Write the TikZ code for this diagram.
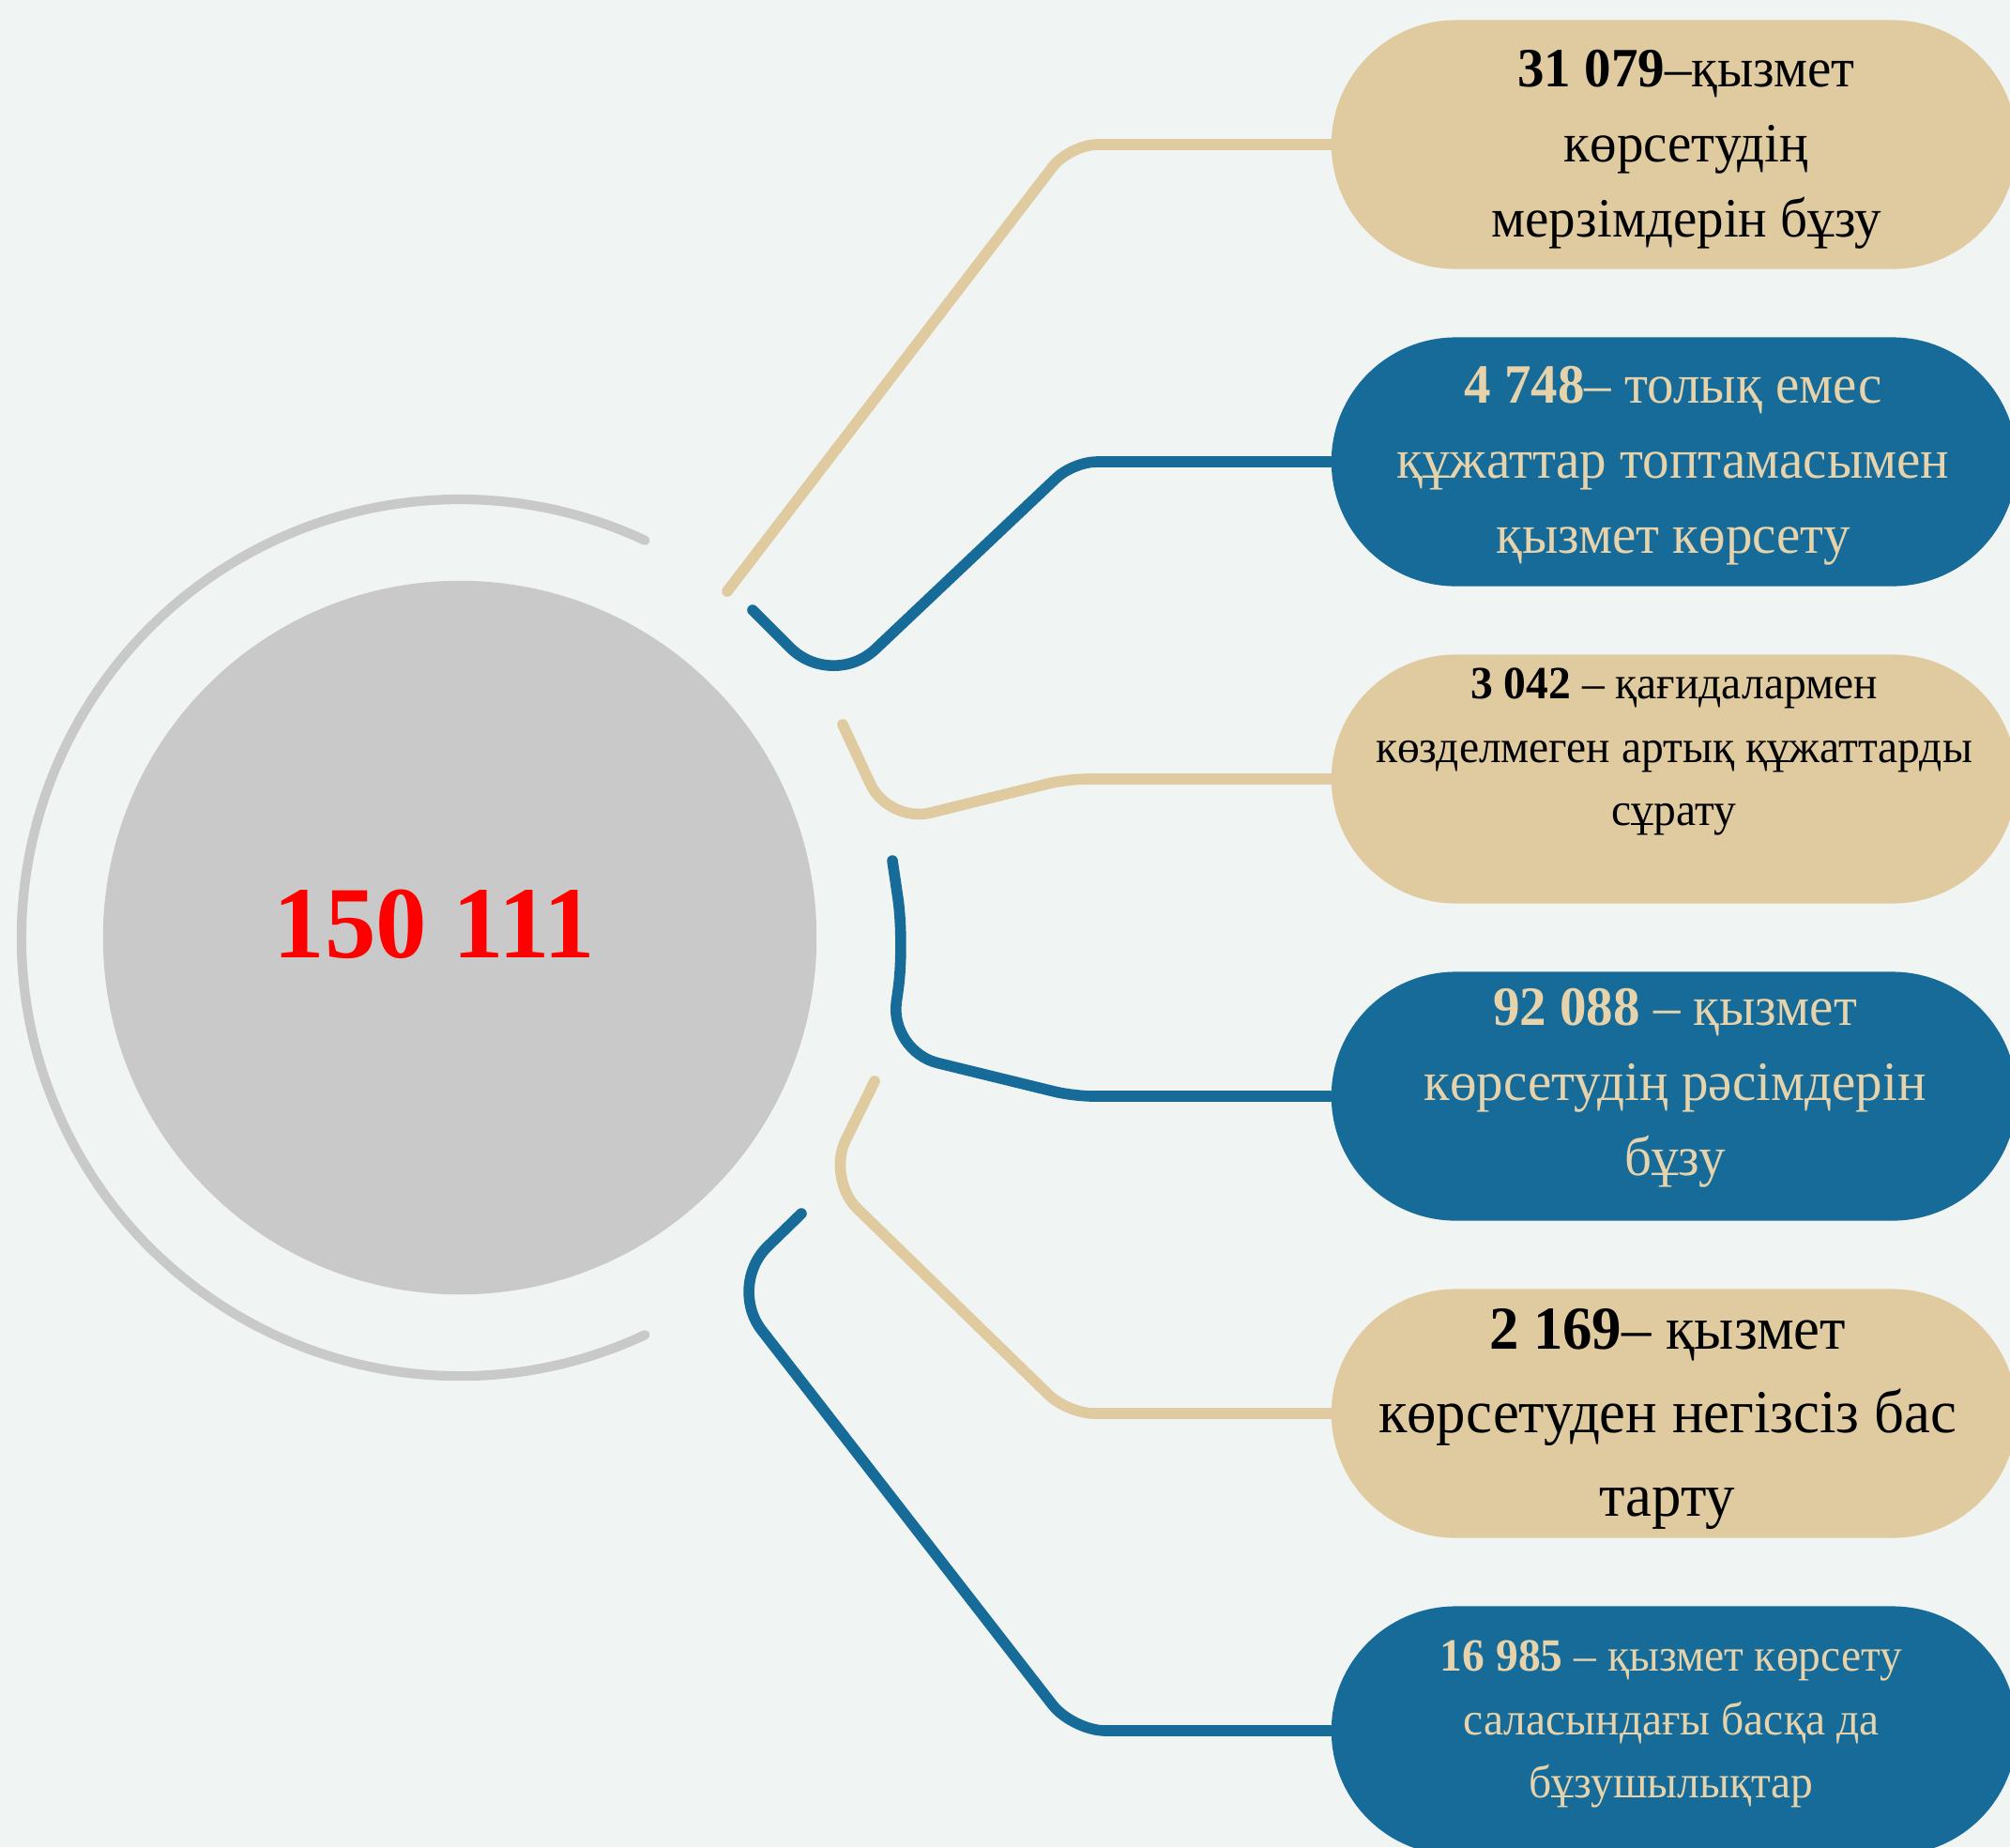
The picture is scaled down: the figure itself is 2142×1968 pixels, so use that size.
\documentclass[tikz,border=0pt]{standalone}
\usepackage{fontspec}
\setmainfont{Liberation Serif}
\newfontfamily\pillfont[FakeStretch=0.965]{Liberation Serif}
\usetikzlibrary{shapes.misc,calc}
\definecolor{bg}{HTML}{F0F4F3}
\definecolor{tanc}{HTML}{E0CBA0}
\definecolor{tantext}{HTML}{E6D3AB}
\definecolor{navy}{HTML}{166B99}
\definecolor{ringc}{HTML}{C8C9C8}
\definecolor{redc}{HTML}{FF0000}
\begin{document}
\begin{tikzpicture}[x=0.01cm,y=-0.01cm,
  pill/.style={rounded rectangle, minimum width=7.3cm, minimum height=2.65cm, inner sep=0pt, draw=none},
  tanpill/.style={pill, fill=tanc},
  bluepill/.style={pill, fill=navy},
  conn/.style={line width=3.3pt, line cap=round},
  tanline/.style={conn, draw=tanc},
  blueline/.style={conn, draw=navy},
  txt/.style={align=center, inner sep=0pt},
  midfont/.style={font=\pillfont\fontsize{16.8pt}{22.8pt}\selectfont},
  smallfont/.style={font=\pillfont\fontsize{14pt}{19.3pt}\selectfont},
  bigfont/.style={font=\pillfont\fontsize{18.5pt}{25.3pt}\selectfont}
]
\fill[bg] (0,0) rectangle (2142,1968);
\useasboundingbox (0,0) rectangle (2142,1968);

% outer ring arc and hub
\draw[ringc, line width=2.9pt, line cap=round] (490,999) ++(65:467) arc[start angle=65, end angle=295, radius=467];
\node[circle, fill=ringc, minimum size=7.6cm, inner sep=0pt] (hub) at (490,999) {};
\node[text=redc, inner sep=0pt, font=\fontsize{31pt}{36pt}\selectfont\bfseries] (total) at (463,985) {150 111};

% free ends of connectors
\coordinate (s1) at (775,630);
\coordinate (s2) at (802,650);
\coordinate (s3) at (898,772);
\coordinate (s4) at (951,917);
\coordinate (s5) at (932,1152);
\coordinate (s6) at (854,1293);

% pills
\node[tanpill]  (p1) at (1784,154)  {};
\node[bluepill] (p2) at (1784,492)  {};
\node[tanpill]  (p3) at (1784,830)  {};
\node[bluepill] (p4) at (1784,1168) {};
\node[tanpill]  (p5) at (1784,1506) {};
\node[bluepill] (p6) at (1784,1844) {};

% connectors
\draw[tanline]  (s1) [rounded corners=8.5pt] -- (1140,154) -- (p1.west);
\draw[blueline] (s2) [rounded corners=18pt] -- (887,735) [rounded corners=7pt] -- (1144,492) -- (p2.west);
\draw[tanline]  (s3) [rounded corners=13pt] -- (947,877) [rounded corners=6pt] -- (1137,830) -- (p3.west);
\draw[blueline] (s4) [rounded corners=14pt] -- (964,1005) [rounded corners=15pt] -- (948,1120) [rounded corners=6pt] -- (1144,1168) -- (p4.west);
\draw[tanline]  (s5) [rounded corners=13pt] -- (881,1256) [rounded corners=8pt] -- (1138,1506) -- (p5.west);
\draw[blueline] (s6) [rounded corners=17pt] -- (775,1370) [rounded corners=10pt] -- (1143,1844) -- (p6.west);

% texts
\node[txt, midfont, text=black] (t1) at (1797,159) {\textbf{31~079}–қызмет\\көрсетудің\\мерзімдерін бұзу};
\node[txt, midfont, text=tantext] (t2) at (1783,496) {\textbf{4~748}– толық емес\\құжаттар топтамасымен\\қызмет көрсету};
\node[txt, smallfont, text=black] (t3) at (1784,801) {\textbf{3~042} – қағидалармен\\көзделмеген артық құжаттарды\\сұрату};
\node[txt, midfont, text=tantext] (t4) at (1785,1159) {\textbf{92~088} – қызмет\\көрсетудің рәсімдерін\\бұзу};
\node[txt, bigfont, text=black] (t5) at (1777,1512) {\textbf{2~169}– қызмет\\көрсетуден негізсіз бас\\тарту};
\node[txt, smallfont, text=tantext] (t6) at (1781,1837) {\textbf{16~985} – қызмет көрсету\\саласындағы басқа да\\бұзушылықтар};
\end{tikzpicture}
\end{document}
